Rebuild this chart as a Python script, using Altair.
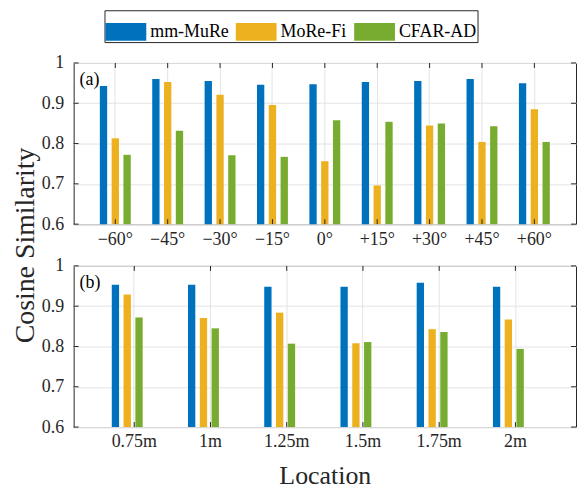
import altair as alt
import pandas as pd

FONT = "Liberation Serif"
INK = "#262626"

series = ["mm-MuRe", "MoRe-Fi", "CFAR-AD"]
colors = ["#0072BD", "#EDB120", "#77AC30"]

angles = ["−60°", "−45°", "−30°", "−15°", "0°", "+15°", "+30°", "+45°", "+60°"]
a_mmmure = [0.943, 0.960, 0.955, 0.946, 0.947, 0.953, 0.955, 0.960, 0.950]
a_morefi = [0.813, 0.953, 0.921, 0.896, 0.756, 0.696, 0.845, 0.804, 0.885]
a_cfarad = [0.772, 0.832, 0.771, 0.767, 0.858, 0.854, 0.850, 0.843, 0.804]

dists = ["0.75m", "1m", "1.25m", "1.5m", "1.75m", "2m"]
b_mmmure = [0.953, 0.953, 0.948, 0.948, 0.958, 0.948]
b_morefi = [0.929, 0.871, 0.884, 0.808, 0.843, 0.867]
b_cfarad = [0.872, 0.845, 0.807, 0.811, 0.836, 0.794]

yticks = [0.6, 0.7, 0.8, 0.9, 1.0]

W = 505
H = 162


def long_table(cats, vals_list):
    rows = []
    for s, vals in zip(series, vals_list):
        for c, v in zip(cats, vals):
            rows.append({"cat": c, "series": s, "value": v})
    return pd.DataFrame(rows)


def panel(cats, vals_list, tag, xtitle, ytitle, show_legend):
    df = long_table(cats, vals_list)
    xscale = alt.Scale(paddingInner=0.41, paddingOuter=0.5)
    yscale = alt.Scale(domain=[0.6, 1.0])

    xaxis_kwargs = dict(labelAngle=0, bandPosition=0.5, grid=True, labelPadding=6,
                        title=xtitle if xtitle else None)
    if xtitle:
        xaxis_kwargs.update(titlePadding=12, titleFontSize=26)
    yaxis_kwargs = dict(values=yticks, format=".1~f", grid=True, labelPadding=10,
                        title=ytitle if ytitle else None)
    if ytitle:
        yaxis_kwargs.update(titleX=-48, titleY=183, titleAngle=270, titleBaseline="middle",
                            titleAlign="center", titleFontSize=28)
    xaxis = alt.Axis(**xaxis_kwargs)
    yaxis = alt.Axis(**yaxis_kwargs)

    legend = alt.Legend(
        orient="none", legendX=31, legendY=-53, direction="horizontal", columns=3,
        title=None, symbolType="M-1,-0.44H1V0.44H-1Z", symbolSize=1681,
        symbolStrokeWidth=0, symbolOpacity=1, labelFont=FONT, labelFontSize=18,
        labelColor="black", labelOffset=4, columnPadding=7, padding=1,
        strokeColor=INK, fillColor="white",
    ) if show_legend else None

    bars = alt.Chart(df).mark_bar(opacity=1).encode(
        x=alt.X("cat:N", sort=cats, scale=xscale, axis=xaxis),
        xOffset=alt.XOffset("series:N", sort=series,
                            scale=alt.Scale(paddingInner=0.38, paddingOuter=0)),
        y=alt.Y("value:Q", scale=yscale, axis=yaxis),
        y2=alt.datum(0.6),
        color=alt.Color("series:N", sort=series,
                        scale=alt.Scale(domain=series, range=colors), legend=legend),
    )

    cat_df = pd.DataFrame({"cat": cats})
    xt_bottom = alt.Chart(cat_df).mark_rule(color=INK, strokeWidth=1).encode(
        x=alt.X("cat:N", sort=cats, scale=xscale, axis=xaxis),
        y=alt.value(H - 5), y2=alt.value(H))
    xt_top = alt.Chart(cat_df).mark_rule(color=INK, strokeWidth=1).encode(
        x=alt.X("cat:N", sort=cats, scale=xscale, axis=xaxis),
        y=alt.value(0), y2=alt.value(5))

    yt_df = pd.DataFrame({"value": yticks})
    yt_left = alt.Chart(yt_df).mark_rule(color=INK, strokeWidth=1).encode(
        y=alt.Y("value:Q", scale=yscale, axis=yaxis), x=alt.value(0), x2=alt.value(5))
    yt_right = alt.Chart(yt_df).mark_rule(color=INK, strokeWidth=1).encode(
        y=alt.Y("value:Q", scale=yscale, axis=yaxis), x=alt.value(W - 5), x2=alt.value(W))

    label = alt.Chart(pd.DataFrame({"t": [tag]})).mark_text(
        font=FONT, fontSize=18, align="left", baseline="middle", color="black"
    ).encode(text="t:N", x=alt.value(6), y=alt.value(17))

    return alt.layer(bars, xt_bottom, xt_top, yt_left, yt_right, label).properties(
        width=W, height=H)


top = panel(angles, [a_mmmure, a_morefi, a_cfarad], "(a)", None, "Cosine Similarity", True)
bottom = panel(dists, [b_mmmure, b_morefi, b_cfarad], "(b)", "Location", None, False)

chart = alt.vconcat(top, bottom, spacing=42, bounds="flush").resolve_scale(
    x="independent", y="independent", color="shared"
).properties(
    padding={"left": 3, "top": 0, "right": 0, "bottom": 0}
).configure_view(
    stroke=INK, strokeWidth=1
).configure_axis(
    labelFont=FONT, titleFont=FONT, labelFontSize=18, titleFontSize=26,
    titleFontWeight="normal", labelColor=INK, titleColor=INK,
    gridColor="#e3e3e3", gridWidth=1, domain=False, ticks=False,
)

chart.save("out.html", embed_options={"renderer": "svg", "actions": False})
